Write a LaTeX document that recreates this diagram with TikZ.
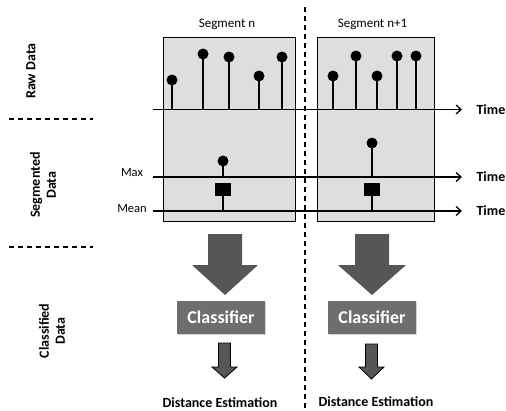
\documentclass[tikz,border=0pt]{standalone}
\usepackage{fontspec}
\setmainfont{Carlito}
\usetikzlibrary{arrows.meta,shadows}
\definecolor{segfill}{HTML}{DEDEDE}
\definecolor{bigarrow}{HTML}{565656}
\definecolor{clsfill}{HTML}{6E6E6E}
\tikzset{
  segbox/.style={draw=black, line width=0.9pt, fill=segfill},
  axis/.style={line width=1.4pt, -{Straight Barb[length=5pt,width=9pt,line width=1.3pt]}},
  stem/.style={line width=1.5pt},
  dot/.style={fill=black},
  sepline/.style={line width=1.3pt, dash pattern=on 5pt off 4pt},
  lbl/.style={font=\fontsize{14}{16}\selectfont\bfseries, align=center, rotate=90},
  timelbl/.style={font=\fontsize{14}{16}\selectfont\bfseries, anchor=west},
  seglbl/.style={font=\fontsize{13}{15}\selectfont},
  smalllbl/.style={font=\fontsize{12.5}{14}\selectfont},
  clsbox/.style={fill=clsfill, text=white, font=\fontsize{18}{20}\selectfont\bfseries,
     minimum width=88pt, minimum height=33pt, inner sep=0pt,
     drop shadow={shadow xshift=1pt, shadow yshift=-1pt, opacity=0.35}},
  distlbl/.style={font=\fontsize{14}{16}\selectfont\bfseries},
  bigarr/.style={fill=bigarrow},
  smallarr/.style={fill=bigarrow, draw=black, line width=0.8pt},
  meanbox/.style={fill=black, minimum width=16pt, minimum height=13pt, inner sep=0pt}
}
\begin{document}
\begin{tikzpicture}[x=1pt,y=-1pt]
\useasboundingbox (0,0) rectangle (506,410);
% segment boxes
\draw[segbox] (163,37) rectangle (295,221);
\draw[segbox] (317,37) rectangle (434,221);
% vertical separator
\coordinate (vtop) at (305,7);
\coordinate (vbot) at (305,410);
\draw[sepline] (vtop) -- (vbot);
% horizontal separators
\coordinate (h1a) at (9,119);
\coordinate (h1b) at (93,119);
\coordinate (h2a) at (9,247);
\coordinate (h2b) at (93,247);
\draw[sepline] (h1a) -- (h1b);
\draw[sepline] (h2a) -- (h2b);
% titles
\node[seglbl] (segn) at (227,24) {Segment n};
\node[seglbl] (segn1) at (372.5,24) {Segment n+1};
% row labels
\node[lbl] (raw) at (31,71) {Raw Data};
\node[lbl] (segd) at (43,185) {Segmented\\Data};
\node[lbl] (clsd) at (52,331) {Classified\\Data};
% raw data axis
\coordinate (ax1s) at (153,109.5);
\coordinate (ax1e) at (462,109.5);
\draw[axis] (ax1s) -- (ax1e);
\node[timelbl] (t1) at (473,109.5) {Time};
% raw data stems
\foreach \x/\y in {172/80, 203/54, 229/57, 259/76, 282/57, 333/76, 356/56, 377/76, 397/56, 416/56}{
  \draw[stem] (\x,109.5) -- (\x,\y);
  \fill[dot] (\x,\y) circle (5.5pt);
}
% segmented data axes
\coordinate (maxs) at (153,177);
\coordinate (maxe) at (462,177);
\coordinate (means) at (153,211);
\coordinate (meane) at (462,211);
\draw[axis] (maxs) -- (maxe);
\draw[axis] (means) -- (meane);
\node[smalllbl] (maxl) at (132,173) {Max};
\node[smalllbl] (meanl) at (132,209) {Mean};
\node[timelbl] (t2) at (473,177) {Time};
\node[timelbl] (t3) at (473,211) {Time};
% segmented markers
\draw[stem] (223,177) -- (223,161);
\fill[dot] (223,161) circle (5.5pt);
\node[meanbox] (sq1) at (223,189.5) {};
\draw[stem] (sq1.south) -- (223,211);
\draw[stem] (372,177) -- (372,143);
\fill[dot] (372,143) circle (5.5pt);
\node[meanbox] (sq2) at (372,189.5) {};
\draw[stem] (sq2.south) -- (372,211);
% big arrows
\fill[bigarr] (208,234) -- (242,234) -- (242,265) -- (258,265) -- (225,295) -- (192,265) -- (208,265) -- cycle;
\fill[bigarr] (355,234) -- (389,234) -- (389,265) -- (406,265) -- (372,295) -- (338,265) -- (355,265) -- cycle;
% classifiers
\node[clsbox] (c1) at (221,317.5) {Classifier};
\node[clsbox] (c2) at (372,317.5) {Classifier};
% small arrows
\draw[smallarr] (218.5,343) -- (230.5,343) -- (230.5,367) -- (237,367) -- (224.5,378) -- (212,367) -- (218.5,367) -- cycle;
\draw[smallarr] (365.5,344) -- (377.5,344) -- (377.5,367) -- (384,367) -- (371.5,379) -- (359,367) -- (365.5,367) -- cycle;
% outputs
\node[distlbl] (d1) at (220,403) {Distance Estimation};
\node[distlbl] (d2) at (376,402) {Distance Estimation};
\end{tikzpicture}
\end{document}
